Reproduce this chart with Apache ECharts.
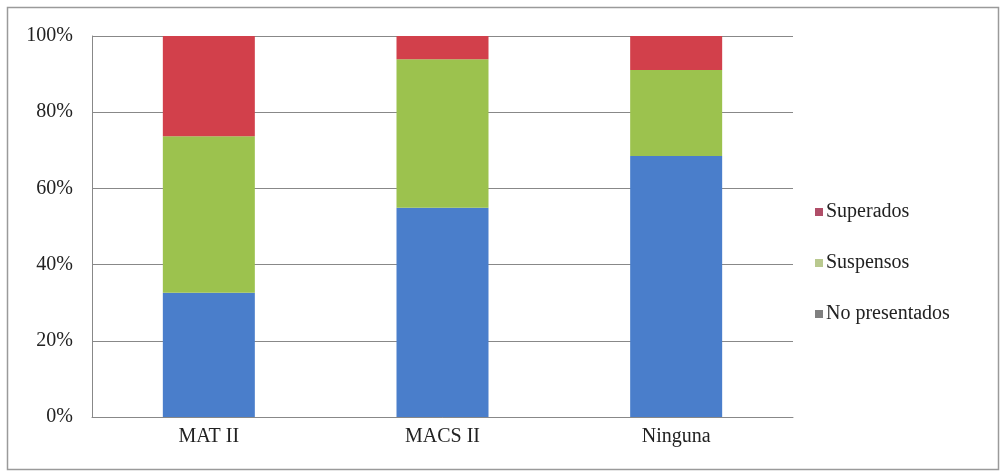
<!DOCTYPE html>
<html><head><meta charset="utf-8">
<script src="https://cdn.jsdelivr.net/npm/echarts@6/dist/echarts.min.js"></script>
<style>html,body{margin:0;padding:0;background:#fff}#c{width:1005px;height:472px}</style>
</head><body><div id="c"></div>
<script>
const categories = ['MAT II', 'MACS II', 'Ninguna'];
const baseBlue = [32.6, 54.9, 68.5];
const noPresentados = [0, 0, 0];
const suspensos = [41.1, 39.0, 22.6];
const superados = [26.3, 6.1, 8.9];
const yTicks = [0, 20, 40, 60, 80, 100];

const chart = echarts.init(document.getElementById('c'));
const font = '"Liberation Serif", "DejaVu Serif", serif';
chart.setOption({
  animation: false,
  backgroundColor: '#fff',
  graphic: [{type: 'rect', shape: {x: 7.5, y: 7.5, width: 991, height: 462}, style: {fill: 'none', stroke: '#9a9a9a', lineWidth: 1.5}}],
  grid: {left: 92, right: 212, top: 36, bottom: 55},
  legend: {
    orient: 'vertical', left: 810, top: 197, itemGap: 31,
    icon: 'rect', itemWidth: 8, itemHeight: 8,
    textStyle: {fontFamily: font, fontSize: 20, color: '#222', padding: [0, 0, 0, -2]},
    data: [
      {name: 'Superados', itemStyle: {color: '#b04e68'}},
      {name: 'Suspensos', itemStyle: {color: '#b9c98f'}},
      {name: 'No presentados', itemStyle: {color: '#808080'}}
    ]
  },
  xAxis: {
    type: 'category', data: categories,
    axisLine: {lineStyle: {color: '#888', width: 1}},
    axisTick: {show: false},
    axisLabel: {fontFamily: font, fontSize: 20, color: '#222', margin: 10}
  },
  yAxis: {
    type: 'value', min: 0, max: 100, interval: 20,
    axisLine: {show: true, lineStyle: {color: '#888'}},
    axisTick: {show: false},
    splitLine: {lineStyle: {color: '#888'}},
    axisLabel: {fontFamily: font, fontSize: 20, color: '#222', margin: 19,
      formatter: v => yTicks.includes(v) ? v + '%' : ''}
  },
  series: [
    {name: 'base', type: 'bar', stack: 't', data: baseBlue, barWidth: 92, itemStyle: {color: '#4a7ecb'}},
    {name: 'No presentados', type: 'bar', stack: 't', data: noPresentados, itemStyle: {color: '#808080'}},
    {name: 'Suspensos', type: 'bar', stack: 't', data: suspensos, itemStyle: {color: '#9cc24e'}},
    {name: 'Superados', type: 'bar', stack: 't', data: superados, itemStyle: {color: '#d2404b'}}
  ]
});
</script></body></html>
